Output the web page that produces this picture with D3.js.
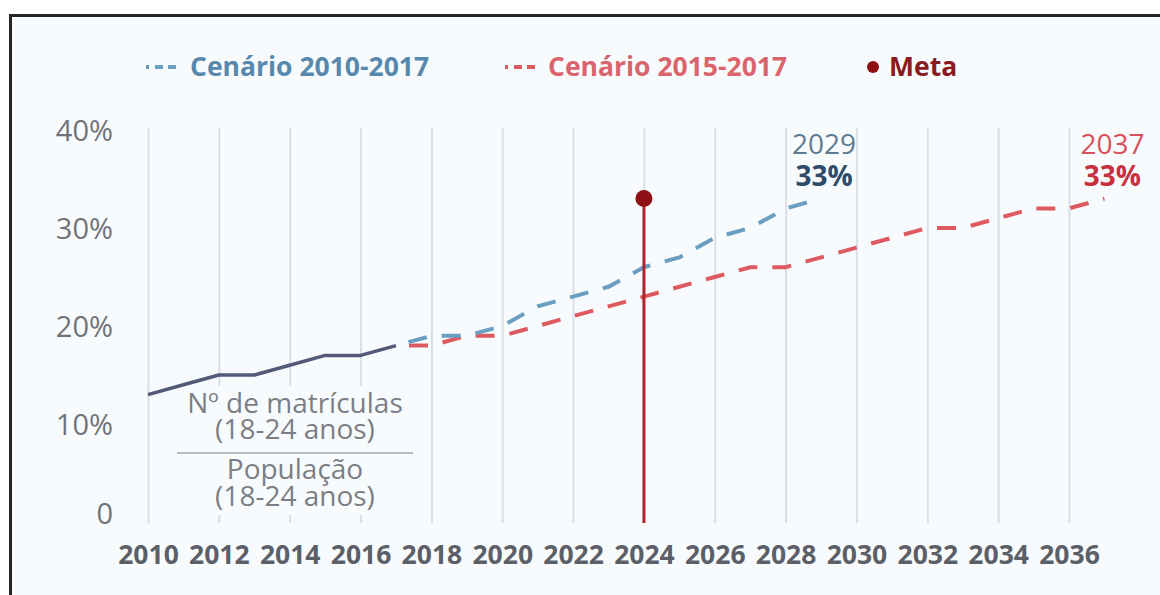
<!DOCTYPE html>
<html>
<head>
<meta charset="utf-8">
<script src="https://cdn.jsdelivr.net/npm/d3@7"></script>
<style>
  html, body { margin: 0; padding: 0; background: #ffffff; }
  svg { display: block; font-family: "Open Sans", "Noto Sans", sans-serif; }
</style>
</head>
<body>
<svg id="chart" width="1160" height="595"></svg>
<script>
// Gross enrolment rate, 18-24 year olds (%)
const historicYears = [2010, 2011, 2012, 2013, 2014, 2015, 2016, 2017];
const historicValues = [13, 14, 15, 15, 16, 17, 17, 18];

// Projection based on 2010-2017 trend
const scenarioAYears = [2017, 2018, 2019, 2020, 2021, 2022, 2023, 2024, 2025, 2026, 2027, 2028, 2029];
const scenarioAValues = [18, 19, 19, 20, 22, 23, 24, 26, 27, 29, 30, 32, 33];

// Projection based on 2015-2017 trend
const scenarioBYears = [2017, 2018, 2019, 2020, 2021, 2022, 2023, 2024, 2025, 2026, 2027, 2028, 2029,
                        2030, 2031, 2032, 2033, 2034, 2035, 2036, 2037];
const scenarioBValues = [18, 18, 19, 19, 20, 21, 22, 23, 24, 25, 26, 26, 27,
                         28, 29, 30, 30, 31, 32, 32, 33];

// Target
const metaYear = 2024;
const metaValue = 33;

const xTicks = [2010, 2012, 2014, 2016, 2018, 2020, 2022, 2024, 2026, 2028, 2030, 2032, 2034, 2036];
const yTicks = [0, 10, 20, 30, 40];
const yTickLabels = ["0", "10%", "20%", "30%", "40%"];

const legendLabels = ["Cenário 2010-2017", "Cenário 2015-2017", "Meta"];
const fractionTop = ["Nº de matrículas", "(18-24 anos)"];
const fractionBottom = ["População", "(18-24 anos)"];

const colors = {
  bg: "#f8fbfd",
  grid: "#d9dee8",
  historic: "#525a78",
  scenA: "#6b9fc1",
  scenAText: "#5689ad",
  scenADark: "#2f4b68",
  scenALight: "#5e7b92",
  scenB: "#dc5a60",
  scenBText: "#d9646d",
  scenBDark: "#c9303e",
  scenBLight: "#d8505d",
  metaLine: "#ad262c",
  metaDot: "#8e0f14",
  metaText: "#8b1a1f",
  axis: "#707379",
  xAxis: "#5b5f68",
  fraction: "#7b7e85"
};

const svg = d3.select("#chart");

// Framed panel
svg.append("rect")
  .attr("x", 10.5).attr("y", 15.5)
  .attr("width", 1170).attr("height", 600)
  .attr("fill", colors.bg)
  .attr("stroke", "#262626")
  .attr("stroke-width", 3);

const x = d3.scaleLinear().domain([2010, 2036]).range([148, 1069]);
const y = d3.scaleLinear().domain([0, 40]).range([522, 130]);

// Vertical grid lines
const grid = svg.append("g")
  .attr("transform", `translate(0,${y(0) + 1})`)
  .call(d3.axisBottom(x).tickValues(xTicks).tickSize(-(y(0) - y(40) + 3)).tickFormat(""));
grid.select(".domain").remove();
grid.selectAll(".tick line").attr("stroke", colors.grid).attr("stroke-width", 2);

// X axis labels
const xAxis = svg.append("g")
  .attr("transform", `translate(0,${y(0)})`)
  .call(d3.axisBottom(x).tickValues(xTicks).tickSize(0).tickPadding(0).tickFormat(d3.format("d")));
xAxis.select(".domain").remove();
xAxis.selectAll(".tick text")
  .attr("y", 42).attr("dy", 0)
  .attr("font-family", "'Open Sans', sans-serif")
  .attr("font-size", 26.5)
  .attr("font-weight", 700)
  .attr("fill", colors.xAxis);

// Y axis labels
const yAxis = svg.append("g")
  .attr("transform", "translate(113,0)")
  .call(d3.axisLeft(y).tickValues(yTicks).tickSize(0).tickPadding(0)
    .tickFormat((d, i) => yTickLabels[i]));
yAxis.select(".domain").remove();
yAxis.selectAll(".tick text")
  .attr("x", 0)
  .attr("dy", d => d === 0 ? "0.05em" : "0.35em")
  .attr("font-family", "'Open Sans', sans-serif")
  .attr("font-size", 29)
  .attr("fill", colors.axis);

// Backdrop behind the fraction definition
svg.append("rect")
  .attr("x", 168).attr("y", 386)
  .attr("width", 252).attr("height", 129)
  .attr("fill", colors.bg);

const fracX = 295;
const fracG = svg.append("g")
  .attr("font-family", "'Open Sans', sans-serif")
  .attr("font-size", 28)
  .attr("fill", colors.fraction)
  .attr("text-anchor", "middle");
fracG.selectAll("text.top").data(fractionTop).join("text")
  .attr("class", "top")
  .attr("x", fracX).attr("y", (d, i) => 413 + i * 26)
  .text(d => d);
fracG.selectAll("text.bottom").data(fractionBottom).join("text")
  .attr("class", "bottom")
  .attr("x", fracX).attr("y", (d, i) => 479 + i * 27)
  .text(d => d);
svg.append("line")
  .attr("x1", 177).attr("x2", 413)
  .attr("y1", 453).attr("y2", 453)
  .attr("stroke", "#a3a8b6").attr("stroke-width", 1.5);

const line = d3.line().x(d => x(d[0])).y(d => y(d[1]));

// Scenario projections (dashed)
svg.append("path")
  .datum(scenarioBYears.map((yr, i) => [yr, scenarioBValues[i]]))
  .attr("d", line)
  .attr("fill", "none")
  .attr("stroke", colors.scenB)
  .attr("stroke-width", 4)
  .attr("stroke-dasharray", "19,15")
  .attr("stroke-dashoffset", 21);

svg.append("path")
  .datum(scenarioAYears.map((yr, i) => [yr, scenarioAValues[i]]))
  .attr("d", line)
  .attr("fill", "none")
  .attr("stroke", colors.scenA)
  .attr("stroke-width", 4)
  .attr("stroke-dasharray", "19,15")
  .attr("stroke-dashoffset", 21);

// Observed series
svg.append("path")
  .datum(historicYears.map((yr, i) => [yr, historicValues[i]]))
  .attr("d", line)
  .attr("fill", "none")
  .attr("stroke", colors.historic)
  .attr("stroke-width", 3.5)
  .attr("stroke-linejoin", "round");

// Target marker
svg.append("line")
  .attr("x1", x(metaYear)).attr("x2", x(metaYear))
  .attr("y1", y(0) + 1).attr("y2", y(metaValue))
  .attr("stroke", colors.metaLine)
  .attr("stroke-width", 3);
svg.append("circle")
  .attr("cx", x(metaYear)).attr("cy", y(metaValue))
  .attr("r", 8.5)
  .attr("fill", colors.metaDot);

// End-of-projection annotations
const lastA = scenarioAYears.length - 1;
const lastB = scenarioBYears.length - 1;
const annot = [
  { yr: scenarioAYears[lastA], v: scenarioAValues[lastA], light: colors.scenALight, dark: colors.scenADark, dx: 3 },
  { yr: scenarioBYears[lastB], v: scenarioBValues[lastB], light: colors.scenBLight, dark: colors.scenBDark, dx: 8 }
];
annot.forEach(a => {
  const g = svg.append("g")
    .attr("font-family", "'Open Sans', sans-serif")
    .attr("font-size", 28)
    .attr("text-anchor", "middle");
  g.append("text")
    .attr("x", x(a.yr) + a.dx).attr("y", y(a.v) - 45)
    .attr("fill", a.light)
    .text(a.yr);
  g.append("text")
    .attr("x", x(a.yr) + a.dx).attr("y", y(a.v) - 13)
    .attr("fill", a.dark)
    .attr("font-weight", 700)
    .text(d3.format(".0f")(a.v) + "%");
});

// Legend
const legend = svg.append("g")
  .attr("font-family", "'Open Sans', sans-serif")
  .attr("font-size", 26.5)
  .attr("font-weight", 700);
const legY = 67;
[[146, colors.scenA, colors.scenAText, 190], [505, colors.scenB, colors.scenBText, 548]].forEach((p, i) => {
  legend.append("line")
    .attr("x1", p[0]).attr("x2", p[0] + 35)
    .attr("y1", legY).attr("y2", legY)
    .attr("stroke", p[1]).attr("stroke-width", 4)
    .attr("stroke-dasharray", "3,6,8,5,8,20");
  legend.append("text")
    .attr("x", p[3]).attr("y", legY + 9)
    .attr("fill", p[2])
    .text(legendLabels[i]);
});
legend.append("circle")
  .attr("cx", 873).attr("cy", legY).attr("r", 6)
  .attr("fill", colors.metaDot);
legend.append("text")
  .attr("x", 889).attr("y", legY + 9)
  .attr("fill", colors.metaText)
  .text(legendLabels[2]);
</script>
</body>
</html>
